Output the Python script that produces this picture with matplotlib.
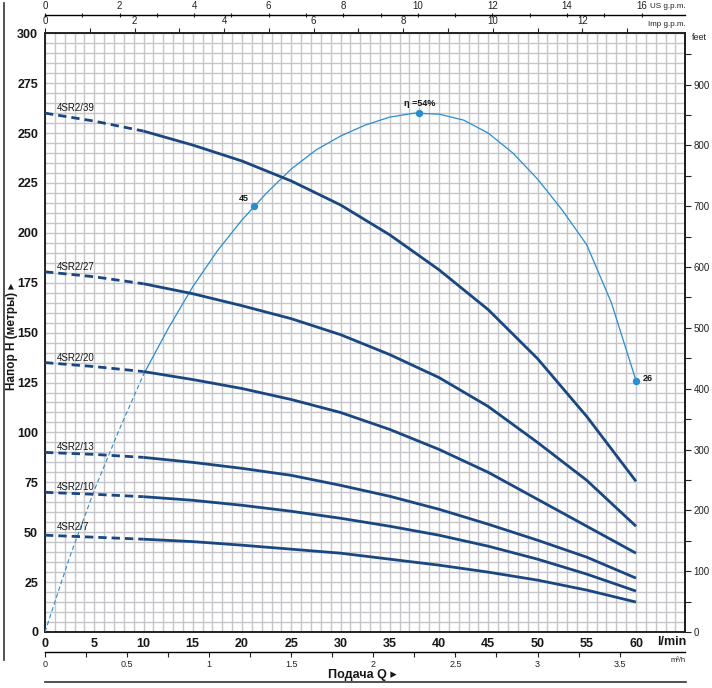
import matplotlib
matplotlib.use('Agg')
import matplotlib.pyplot as plt
from matplotlib.ticker import FuncFormatter

plt.rcParams['font.family'] = ['Liberation Sans', 'DejaVu Sans']
TICKSIZE = 9

# ---------------- data ----------------
flow = [0, 5, 10, 15, 20, 25, 30, 35, 40, 45, 50, 55, 60]
h39 = [260, 256, 251, 244, 236, 226, 214, 199, 181.5, 161.5, 137, 108, 75.5]
h27 = [180.5, 178, 174.5, 169.5, 163.5, 157, 149, 139, 127.5, 113, 95, 76, 53]
h20 = [135, 133, 130.5, 126.5, 122, 116.5, 110, 101.5, 91.5, 80, 66.5, 53, 39.5]
h13 = [90, 89, 87.5, 85, 82, 78.5, 73.5, 68, 61.5, 54, 46, 37.5, 27]
h10 = [70, 69, 67.8, 66, 63.5, 60.5, 57, 53, 48.5, 43, 36.5, 29, 20.5]
h7 = [48.5, 47.5, 46.5, 45.3, 43.5, 41.5, 39.5, 36.5, 33.5, 30, 26, 21, 15]
models = ['4SR2/39', '4SR2/27', '4SR2/20', '4SR2/13', '4SR2/10', '4SR2/7']

eff_q = [0, 2.5, 5, 7.5, 10, 12.5, 15, 17.5, 20, 22.5, 25, 27.5, 30, 32.5, 35,
         37.5, 40, 42.5, 45, 47.5, 50, 52.5, 55, 57.5, 60]
eff_h = [0, 37.5, 71, 101, 129, 152, 173, 191, 206.5, 220, 232, 241.5, 248.5,
         254, 258, 260, 259.5, 256.5, 250, 240, 227, 211.5, 194, 165, 126]
eff_mark_q = [21.2, 38.0, 60.0]
eff_mark_h = [213.5, 260.2, 126.0]
eff_mark_lab = ['45', 'η =54%', '26']

xticks = [0, 5, 10, 15, 20, 25, 30, 35, 40, 45, 50, 55, 60]
yticks = [0, 25, 50, 75, 100, 125, 150, 175, 200, 225, 250, 275, 300]
feet_ticks = [0, 100, 200, 300, 400, 500, 600, 700, 800, 900]
us_ticks = [0, 2, 4, 6, 8, 10, 12, 14, 16]
imp_ticks = [0, 2, 4, 6, 8, 10, 12]
m3h_ticks = [0, 0.5, 1, 1.5, 2, 2.5, 3, 3.5]

HEAD = '#1a4782'
EFF = '#2a8dcf'
TXT = '#161616'
W, H = 712, 688

fig = plt.figure(figsize=(W / 100, H / 100), dpi=100)
x0, x1, y0, y1 = 45, 685.25, 632, 33.3
ax = fig.add_axes([x0 / W, 1 - y0 / H, (x1 - x0) / W, (y0 - y1) / H])
ax.set_xlim(0, 65)
ax.set_ylim(0, 300)
ax.set_xticks(xticks)
ax.set_xticks(range(0, 66), minor=True)
ax.set_yticks(yticks)
ax.set_yticks(range(0, 301, 5), minor=True)
ax.grid(which='both', color='#c6c6ca', lw=1.0)
ax.set_axisbelow(True)
ax.tick_params(which='both', length=0)
ax.tick_params(axis='x', pad=4)
ax.tick_params(axis='y', pad=5)
for lab in ax.get_xticklabels() + ax.get_yticklabels():
    lab.set_fontweight('bold')
    lab.set_fontsize(TICKSIZE)
    lab.set_color(TXT)
for sp in ax.spines.values():
    sp.set_linewidth(1.4)
    sp.set_color('#222222')

# efficiency curve
ax.plot(eff_q[:5], eff_h[:5], color=EFF, lw=0.8, dashes=(4, 2.5), zorder=3)
ax.plot(eff_q[4:], eff_h[4:], color=EFF, lw=0.9, zorder=3,
        solid_joinstyle='round')
ax.plot(eff_mark_q, eff_mark_h, 'o', color=EFF, ms=4.3, zorder=4)
offs = [((-3.5, 5.5), 'right'), ((0, 6.5), 'center'), ((5, 1.5), 'left')]
for q, h, t, (o, ha) in zip(eff_mark_q, eff_mark_h, eff_mark_lab, offs):
    ax.annotate(t, (q, h), xytext=o, textcoords='offset points', ha=ha,
                va='center', fontsize=6.5, fontweight='bold', color=TXT)

# head curves
for name, hs in zip(models, [h39, h27, h20, h13, h10, h7]):
    ax.plot(flow[:3], hs[:3], color=HEAD, lw=2.0, dashes=(3.0, 1.8), zorder=5)
    ax.plot(flow[2:], hs[2:], color=HEAD, lw=2.0, zorder=5,
            solid_capstyle='butt', solid_joinstyle='round')
    dy = 4 if name == '4SR2/7' else 2.5
    ax.text(1.2, hs[0] + dy, name, fontsize=7, ha='left', va='center',
            color=TXT)

# right feet axis
sec = ax.secondary_yaxis('right', functions=(lambda m: m * 3.28084,
                                             lambda f: f / 3.28084))
sec.set_yticks(feet_ticks)
sec.set_yticks(list(range(50, 1000, 100)), minor=True)
sec.tick_params(which='both', length=4, width=0.8, labelsize=7, pad=2,
                colors='#222222')
sec.spines['right'].set_linewidth(1.4)
fig.text(692 / W, 1 - 37 / H, 'feet', fontsize=6.5, ha='left', va='center',
         color='#222222')

# top Imp g.p.m. axis
imp = ax.secondary_xaxis('top', functions=(lambda q: q / 4.546,
                                           lambda g: g * 4.546))
imp.set_xticks(imp_ticks)
imp.set_xticks(list(range(1, 14, 2)), minor=True)
imp.tick_params(which='both', length=3.5, width=0.8, labelsize=7, pad=1.5,
                colors='#222222')
imp.spines['top'].set_visible(False)

# top US g.p.m. axis
loc_us = 1 + (y1 - 15) / (y0 - y1)
us = ax.secondary_xaxis(loc_us, functions=(lambda q: q / 3.785,
                                           lambda g: g * 3.785))
us.set_xticks(us_ticks)
us.set_xticks(list(range(1, 16, 2)), minor=True)
us.tick_params(which='both', length=3.5, width=0.8, labelsize=7, pad=1,
               direction='inout', colors='#222222')
us.spines['top'].set_linewidth(1.0)
fig.text(686 / W, 1 - 7 / H, 'US g.p.m.', fontsize=5.8, ha='right',
         va='center', color='#222222')
fig.text(686 / W, 1 - 24 / H, 'Imp g.p.m.', fontsize=5.8, ha='right',
         va='center', color='#222222')

# bottom m3/h axis
loc_m3 = -(652 - y0) / (y0 - y1)
m3 = ax.secondary_xaxis(loc_m3, functions=(lambda q: q / 16.6667,
                                           lambda m: m * 16.6667))
m3.set_xticks(m3h_ticks)
m3.set_xticks([0.25, 0.75, 1.25, 1.75, 2.25, 2.75, 3.25], minor=True)
m3.xaxis.set_major_formatter(FuncFormatter(lambda v, p: f'{v:g}'))
m3.tick_params(which='both', length=3.5, width=0.8, labelsize=6.5, pad=2,
               colors='#222222')
m3.spines['bottom'].set_linewidth(1.0)

fig.text(686 / W, 1 - 642 / H, 'l/min', fontsize=TICKSIZE, fontweight='bold',
         ha='right', va='center', color=TXT)
fig.text(686 / W, 1 - 661 / H, 'm³/h', fontsize=5.5, ha='right', va='center',
         color='#222222')
fig.text(362 / W, 1 - 675 / H, 'Подача Q ▸', fontsize=9, fontweight='bold',
         ha='center', va='center', color=TXT)
fig.text(12 / W, 1 - 336 / H, 'Напор H (метры) ▸', fontsize=8.5,
         fontweight='bold', rotation=90, ha='center', va='center',
         color=TXT)

# decorative frame lines
fig.add_artist(plt.Line2D([45 / W, 686 / W], [1 - 682 / H, 1 - 682 / H],
                          color='#333333', lw=1.2))
fig.add_artist(plt.Line2D([4 / W, 4 / W], [1 - 3 / H, 1 - 660 / H],
                          color='#333333', lw=1.2))

fig.savefig('out.png', dpi=100)
